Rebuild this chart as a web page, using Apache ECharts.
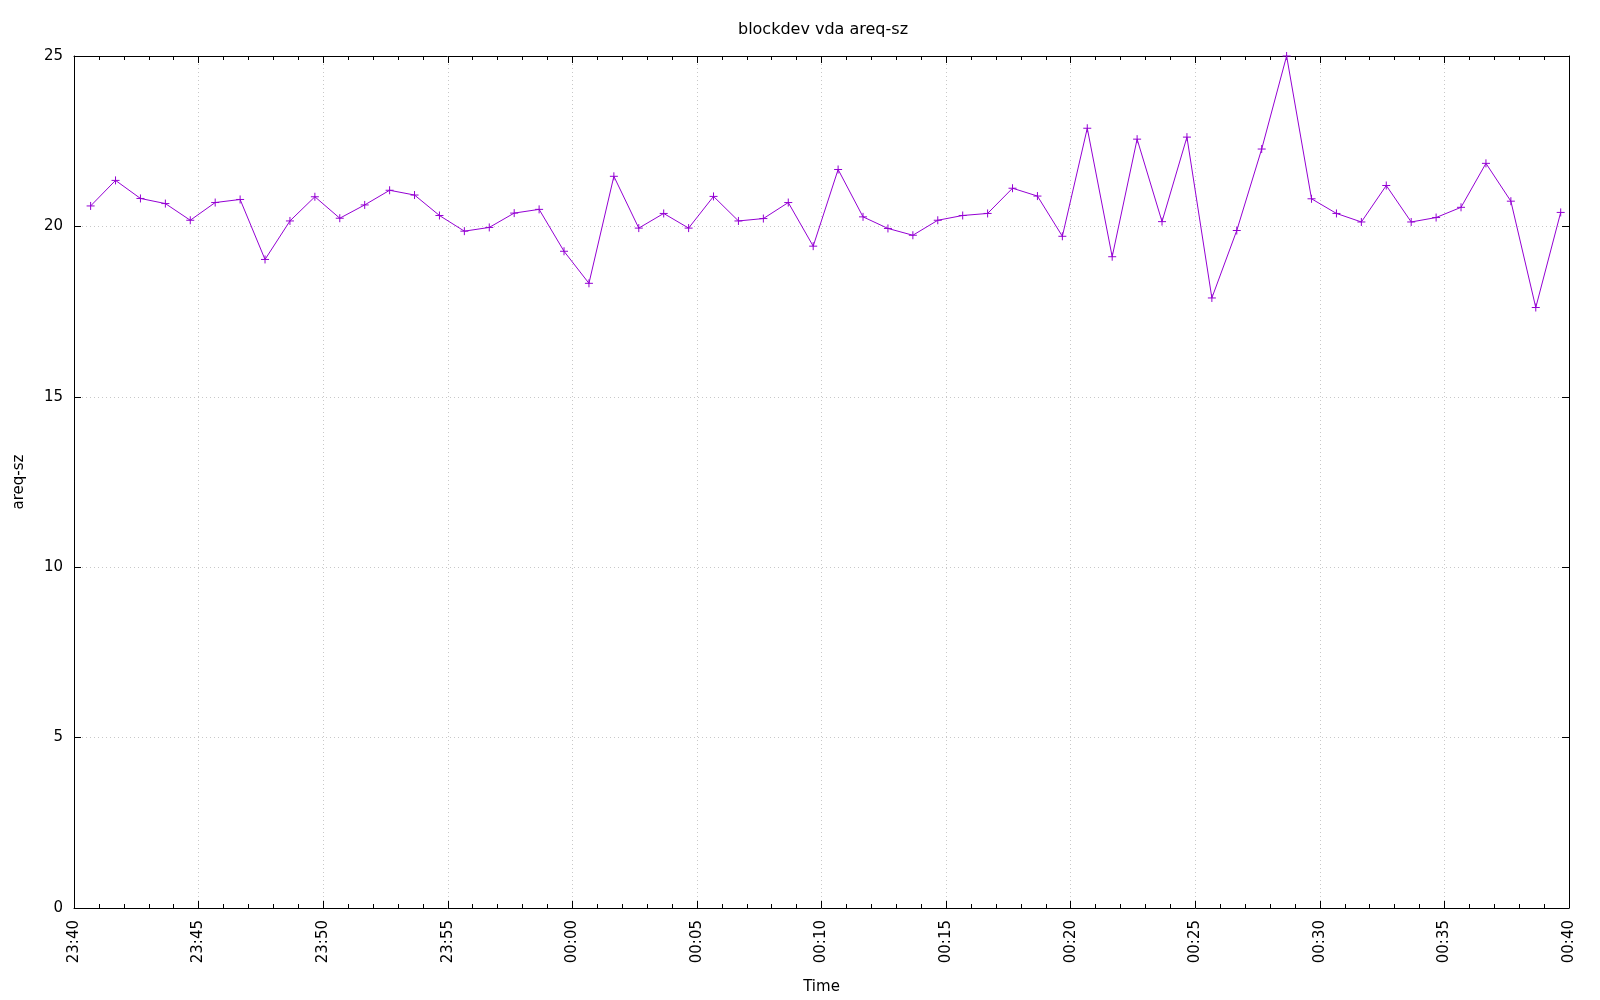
<!DOCTYPE html>
<html>
<head>
<meta charset="utf-8">
<script src="https://cdn.jsdelivr.net/npm/echarts@6/dist/echarts.min.js"></script>
<style>
html,body{margin:0;padding:0;background:#fff;}
#chart{width:1600px;height:1000px;}
</style>
</head>
<body>
<div id="chart"></div>
<script>
const times = [
  "23:40:40","23:41:40","23:42:40","23:43:40","23:44:40","23:45:40","23:46:40","23:47:40","23:48:40","23:49:40",
  "23:50:40","23:51:40","23:52:40","23:53:40","23:54:40","23:55:40","23:56:40","23:57:40","23:58:40","23:59:40",
  "00:00:40","00:01:40","00:02:40","00:03:40","00:04:40","00:05:40","00:06:40","00:07:40","00:08:40","00:09:40",
  "00:10:40","00:11:40","00:12:40","00:13:40","00:14:40","00:15:40","00:16:40","00:17:40","00:18:40","00:19:40",
  "00:20:40","00:21:40","00:22:40","00:23:40","00:24:40","00:25:40","00:26:40","00:27:40","00:28:40","00:29:40",
  "00:30:40","00:31:40","00:32:40","00:33:40","00:34:40","00:35:40","00:36:40","00:37:40","00:38:40","00:39:40"
];
const areqSz = [
  20.60, 21.35, 20.82, 20.67, 20.18, 20.70, 20.79, 19.03, 20.16, 20.87,
  20.24, 20.63, 21.06, 20.92, 20.32, 19.86, 19.97, 20.39, 20.50, 19.27,
  18.33, 21.47, 19.95, 20.38, 19.95, 20.88, 20.16, 20.23, 20.70, 19.42,
  21.67, 20.28, 19.94, 19.74, 20.18, 20.32, 20.38, 21.12, 20.89, 19.71,
  22.88, 19.11, 22.56, 20.14, 22.62, 17.90, 19.88, 22.27, 25.00, 20.81,
  20.38, 20.13, 21.20, 20.13, 20.26, 20.56, 21.85, 20.74, 17.62, 20.41
];
const xTickLabels = ["23:40","23:45","23:50","23:55","00:00","00:05","00:10","00:15","00:20","00:25","00:30","00:35","00:40"];
const yTicks = [0, 5, 10, 15, 20, 25];
const titleText = "blockdev vda areq-sz";
const xName = "Time";
const yName = "areq-sz";

// minutes since 23:40
function toMin(t) {
  const p = t.split(":").map(Number);
  let h = p[0];
  if (h < 12) h += 24;
  return h * 60 + p[1] + (p[2] || 0) / 60 - (23 * 60 + 40);
}
const seriesData = times.map((t, i) => [toMin(t), areqSz[i]]);
const xMax = toMin(xTickLabels[xTickLabels.length - 1]);

const font = "DejaVu Sans";
const col = "#9400d3";
const chart = echarts.init(document.getElementById("chart"), null, {renderer: "canvas"});
const tickCommon = {show: true, inside: true, length: 7, lineStyle: {color: "#000", width: 1}};
const minorCommon = {show: true, splitNumber: 5, length: 4, lineStyle: {color: "#000", width: 1}};
chart.setOption({
  animation: false,
  backgroundColor: "#fff",
  title: {
    text: titleText,
    left: 818, top: 17, textAlign: "center",
    textStyle: {fontFamily: font, fontSize: 16, fontWeight: "normal", color: "#000"}
  },
  grid: {left: 74, right: 31, top: 56, bottom: 92, containLabel: false},
  xAxis: [{
    type: "value", min: 0, max: xMax, interval: 5,
    name: xName, nameLocation: "middle", nameGap: 72,
    nameTextStyle: {fontFamily: font, fontSize: 15, color: "#000"},
    axisLine: {show: true, onZero: false, lineStyle: {color: "#000", width: 1}},
    axisTick: tickCommon,
    minorTick: minorCommon,
    splitLine: {show: true, lineStyle: {color: "#c8c8c8", type: [1, 3], width: 1}},
    axisLabel: {
      rotate: 90, margin: 12, fontFamily: font, fontSize: 15, color: "#000",
      formatter: v => xTickLabels[Math.round(v / 5)]
    }
  }, {
    type: "value", position: "top", min: 0, max: xMax, interval: 5,
    axisLine: {show: true, onZero: false, lineStyle: {color: "#000", width: 1}},
    axisTick: tickCommon, minorTick: minorCommon,
    splitLine: {show: false}, axisLabel: {show: false}
  }],
  yAxis: [{
    type: "value", min: yTicks[0], max: yTicks[yTicks.length - 1], interval: 5,
    name: yName, nameLocation: "middle", nameGap: 47, nameRotate: 90,
    nameTextStyle: {fontFamily: font, fontSize: 15, color: "#000"},
    axisLine: {show: true, onZero: false, lineStyle: {color: "#000", width: 1}},
    axisTick: tickCommon,
    splitLine: {show: true, lineStyle: {color: "#c8c8c8", type: [1, 3], width: 1}},
    axisLabel: {margin: 11, fontFamily: font, fontSize: 15, color: "#000"}
  }, {
    type: "value", position: "right", min: yTicks[0], max: yTicks[yTicks.length - 1], interval: 5,
    axisLine: {show: true, onZero: false, lineStyle: {color: "#000", width: 1}},
    axisTick: tickCommon, splitLine: {show: false}, axisLabel: {show: false}
  }],
  series: [{
    type: "line",
    data: seriesData,
    xAxisIndex: 0, yAxisIndex: 0,
    showAllSymbol: true,
    symbol: "path://M0,5L10,5M5,0L5,10",
    symbolSize: 8,
    itemStyle: {color: col, borderColor: col, borderWidth: 1},
    lineStyle: {color: col, width: 1},
    emphasis: {disabled: true}
  }]
});
</script>
</body>
</html>
